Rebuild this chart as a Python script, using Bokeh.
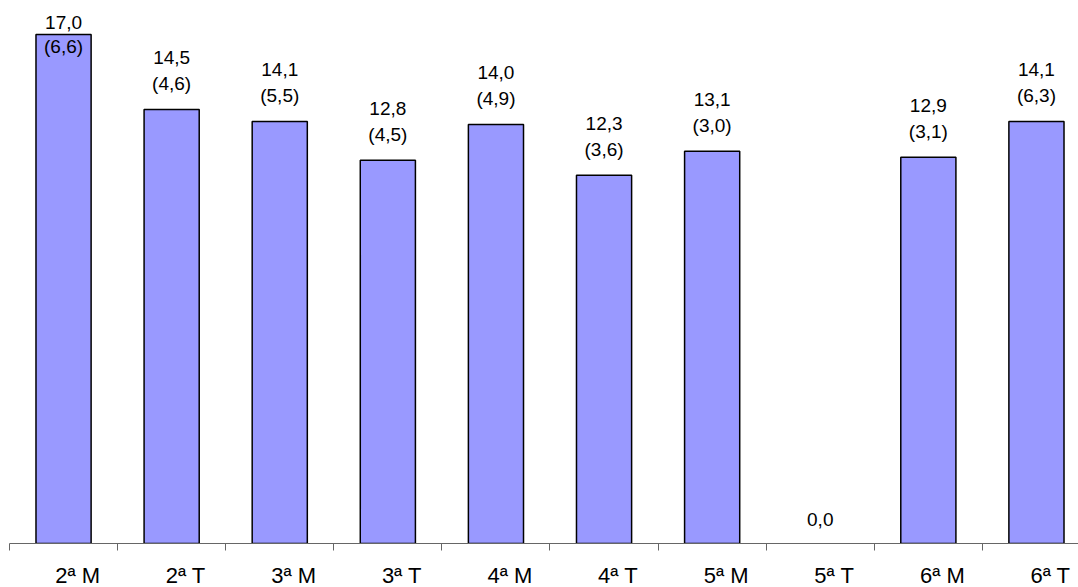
from bokeh.plotting import figure
from bokeh.models import Range1d, FixedTicker
from bokeh.core.properties import value
from bokeh.embed import file_html
from bokeh.resources import INLINE

categories = ["2ª M", "2ª T", "3ª M", "3ª T", "4ª M", "4ª T", "5ª M", "5ª T", "6ª M", "6ª T"]
means = [17.0, 14.5, 14.1, 12.8, 14.0, 12.3, 13.1, 0.0, 12.9, 14.1]
sds = [6.6, 4.6, 5.5, 4.5, 4.9, 3.6, 3.0, None, 3.1, 6.3]

W, H = 1078, 587
FRAME_H = 543
Y_END = 18.14
X_END = 9.889
FONT = "Liberation Sans"

def fmt(v):
    return f"{v:.1f}".replace(".", ",")

n = len(categories)
centers = [i + 0.5 for i in range(n)]
scale_y = FRAME_H / Y_END

# label positions (two lines: mean, (sd)); clamp to the top of the plot area
val_y, val_off, sd_y, sd_off, val_txt, sd_txt, sd_x = [], [], [], [], [], [], []
for c, m, s in zip(centers, means, sds):
    top_px = FRAME_H - m * scale_y  # from frame top
    val_txt.append(fmt(m))
    if s is None:
        val_y.append(m); val_off.append(-24)
        continue
    if top_px - 52 < 22:
        val_y.append(Y_END); val_off.append(22)
        sd_y.append(Y_END); sd_off.append(46)
    else:
        val_y.append(m); val_off.append(-52)
        sd_y.append(m); sd_off.append(-26)
    sd_x.append(c)
    sd_txt.append("(" + fmt(s) + ")")

bar_x = [c for c, m in zip(centers, means) if m > 0]
bar_top = [m for m in means if m > 0]

p = figure(width=W, height=H, output_backend="svg", toolbar_location=None,
           x_range=Range1d(0, X_END), y_range=Range1d(0, Y_END),
           y_axis_location=None,
           min_border_left=9, min_border_right=0, min_border_top=0, min_border_bottom=44)
p.grid.visible = False
p.outline_line_color = None
p.background_fill_color = "white"
p.border_fill_color = "white"

p.vbar(x=bar_x, top=bar_top, width=0.51, fill_color="#9999FF",
       line_color="black", line_width=1.5)

p.text(x=centers, y=val_y, text=val_txt, y_offset=val_off,
       text_align="center", text_baseline="middle",
       text_font=value(FONT), text_font_size="19px", text_color="black")
p.text(x=sd_x, y=sd_y, text=sd_txt, y_offset=sd_off,
       text_align="center", text_baseline="middle",
       text_font=value(FONT), text_font_size="19px", text_color="black")

# category labels below the axis
p.text(x=centers, y=[0] * n, text=categories, x_offset=[14] * n, y_offset=[32] * n,
       text_align="center", text_baseline="middle",
       text_font=value(FONT), text_font_size="22px", text_color="black",
       level="overlay")

ax = p.xaxis[0]
ax.ticker = FixedTicker(ticks=[], minor_ticks=list(range(n + 1)))
ax.major_label_standoff = 0
ax.major_tick_line_color = None
ax.major_tick_in = 0
ax.major_tick_out = 0
ax.minor_tick_in = 0
ax.minor_tick_out = 7
ax.minor_tick_line_color = "#666666"
ax.axis_line_color = "#666666"

open("out.html", "w").write(file_html(p, INLINE))
